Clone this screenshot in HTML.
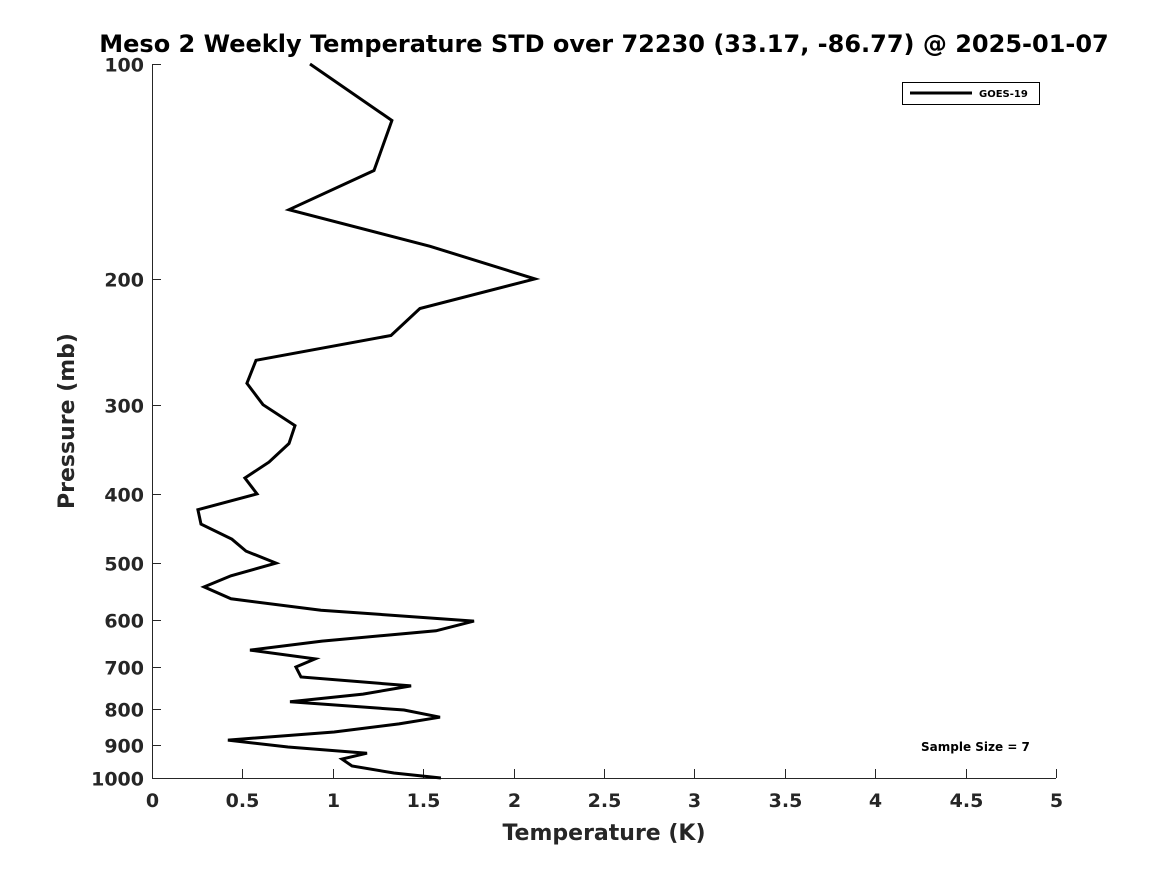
<!DOCTYPE html>
<html><head><meta charset="utf-8"><style>
body{margin:0;background:#fff;}
text{font-family:"DejaVu Sans","Liberation Sans",sans-serif;font-weight:bold;fill:#262626;}
</style></head><body>
<svg id="chart" width="1167" height="875" xmlns="http://www.w3.org/2000/svg">
<rect width="1167" height="875" fill="#fff"/>
<text x="604" y="52" text-anchor="middle" font-size="24" style="fill:#000">Meso 2 Weekly Temperature STD over 72230 (33.17, -86.77) @ 2025-01-07</text>
<g id="axes"></g>
<polyline id="series" fill="none" stroke="#000" stroke-width="3" stroke-linejoin="miter"/>
<g>
<rect x="902.5" y="82.5" width="137" height="22" fill="#fff" stroke="#000" stroke-width="1"/>
<line x1="910" y1="93" x2="972" y2="93" stroke="#000" stroke-width="3"/>
<text x="979" y="97" font-size="10" style="fill:#000">GOES-19</text>
</g>
<text x="921" y="751" font-size="12" style="fill:#000">Sample Size = 7</text>
<text x="604" y="840" text-anchor="middle" font-size="22">Temperature (K)</text>
<text transform="translate(74,421) rotate(-90)" text-anchor="middle" font-size="22">Pressure (mb)</text>
</svg>
<script>
const xTicks=[0,0.5,1,1.5,2,2.5,3,3.5,4,4.5,5];
const xTickLabels=["0","0.5","1","1.5","2","2.5","3","3.5","4","4.5","5"];
const yTicks=[100,200,300,400,500,600,700,800,900,1000];
const yTickLabels=["100","200","300","400","500","600","700","800","900","1000"];
const pressure=[100,120,141,160,180,200,220,240,260,280,300,321,340,361,380,400,421,441,463,481,500,521,540,561,582,603,622,643,662,681,699,722,743,763,782,803,822,840,862,885,905,923,941,962,984,1000];
const temperature=[0.874,1.327,1.228,0.758,1.538,2.118,1.482,1.322,0.575,0.525,0.614,0.791,0.758,0.647,0.514,0.581,0.254,0.271,0.442,0.52,0.686,0.437,0.288,0.437,0.935,1.781,1.571,0.94,0.542,0.902,0.796,0.824,1.433,1.167,0.763,1.394,1.593,1.366,1.007,0.42,0.752,1.189,1.051,1.106,1.338,1.598];
const L=152,R=1056,T=64,B=778;
const xS=v=>L+(v-0)/(5-0)*(R-L);
const yS=p=>T+(Math.log10(p)-2)/(3-2)*(B-T);
const ns="http://www.w3.org/2000/svg";
const ax=document.getElementById('axes');
function mk(tag,attrs){const e=document.createElementNS(ns,tag);for(const k in attrs)e.setAttribute(k,attrs[k]);ax.appendChild(e);return e;}
let a=mk('line',{x1:L,y1:B+0.5,x2:R,y2:B+0.5,stroke:'#262626','stroke-width':1});


a=mk('line',{x1:L+0.5,y1:T,x2:L+0.5,y2:B,stroke:'#262626','stroke-width':1});


xTicks.forEach((v,i)=>{const x=Math.round(xS(v))+0.5;
mk('line',{x1:x,y1:B,x2:x,y2:B-9,stroke:'#262626'});
const t=mk('text',{x:x,y:B+29,'text-anchor':'middle','font-size':19});
t.textContent=xTickLabels[i];

});
yTicks.forEach((v,i)=>{const y=Math.round(yS(v))+0.5;
mk('line',{x1:L,y1:y,x2:L+9,y2:y,stroke:'#262626'});
const t=mk('text',{x:L-8,y:y+7,'text-anchor':'end','font-size':19});
t.textContent=yTickLabels[i];

});
document.getElementById('series').setAttribute('points',pressure.map((p,i)=>xS(temperature[i]).toFixed(1)+','+yS(p).toFixed(1)).join(' '));
</script>
</body></html>
